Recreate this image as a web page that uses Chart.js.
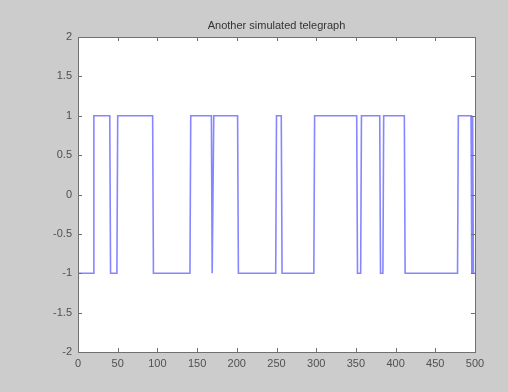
<!DOCTYPE html>
<html>
<head>
<meta charset="utf-8">
<title>Another simulated telegraph</title>
<script src="https://cdn.jsdelivr.net/npm/chart.js@4/dist/chart.umd.min.js"></script>
<style>
    html, body { margin: 0; padding: 0; background: #cccccc; }
    #telegraphChart { display: block; }
</style>
</head>
<body>
<canvas id="telegraphChart" width="508" height="392"></canvas>
<script>
// Data: switching points of the telegraph signal (sample index, level)
const switchX = [1, 19, 20, 40, 41, 49, 50, 94, 95, 141, 142, 168, 169, 171, 201, 202,
                 249, 250, 256, 257, 297, 298, 351, 352, 356, 357, 380, 381, 384, 385,
                 411, 412, 478, 479, 495, 496, 497, 498, 500];
const switchY = [-1, -1, 1, 1, -1, -1, 1, 1, -1, -1, 1, 1, -1, 1, 1, -1,
                 -1, 1, 1, -1, -1, 1, 1, -1, -1, 1, 1, -1, -1, 1,
                 1, -1, -1, 1, 1, -1, 1, -1, -1];
const xTicks = [0, 50, 100, 150, 200, 250, 300, 350, 400, 450, 500];
const yTicks = [-2, -1.5, -1, -0.5, 0, 0.5, 1, 1.5, 2];
const chartTitle = 'Another simulated telegraph';

const points = switchX.map((x, i) => ({ x: x, y: switchY[i] }));

// Matlab style box: white axes, frame on all sides, ticks pointing inward
const matlabBox = {
    id: 'matlabBox',
    beforeDraw(chart) {
        const { ctx, chartArea: a } = chart;
        ctx.save();
        ctx.fillStyle = '#cccccc';
        ctx.fillRect(0, 0, chart.width, chart.height);
        ctx.fillStyle = '#ffffff';
        ctx.fillRect(a.left, a.top, a.right - a.left, a.bottom - a.top);
        ctx.restore();
    },
    afterDraw(chart) {
        const { ctx, chartArea: a, scales } = chart;
        const len = 4;
        ctx.save();
        ctx.strokeStyle = '#707070';
        ctx.lineWidth = 1;
        ctx.strokeRect(Math.round(a.left) + 0.5, Math.round(a.top) + 0.5,
                       Math.round(a.right - a.left), Math.round(a.bottom - a.top));
        ctx.beginPath();
        xTicks.forEach(v => {
            const px = Math.round(scales.x.getPixelForValue(v)) + 0.5;
            ctx.moveTo(px, a.bottom); ctx.lineTo(px, a.bottom - len);
            ctx.moveTo(px, a.top); ctx.lineTo(px, a.top + len);
        });
        yTicks.forEach(v => {
            const py = Math.round(scales.y.getPixelForValue(v)) + 0.5;
            ctx.moveTo(a.left, py); ctx.lineTo(a.left + len, py);
            ctx.moveTo(a.right, py); ctx.lineTo(a.right - len, py);
        });
        ctx.stroke();

        // title
        ctx.fillStyle = '#333333';
        ctx.font = '11px "Liberation Sans", Arial, sans-serif';
        ctx.textAlign = 'center';
        ctx.textBaseline = 'middle';
        ctx.fillText(chartTitle, (a.left + a.right) / 2, 26);
        ctx.restore();
    }
};

const tickFont = { family: '"Liberation Sans", Arial, sans-serif', size: 11 };

const ctx = document.getElementById('telegraphChart').getContext('2d');
const telegraphChart = new Chart(ctx, {
    type: 'line',
    data: {
        datasets: [{
            data: points,
            borderColor: '#8686ff',
            borderWidth: 1.6,
            borderJoinStyle: 'miter',
            pointRadius: 0,
            tension: 0,
            fill: false
        }]
    },
    options: {
        responsive: false,
        animation: false,
        events: [],
        layout: { padding: { left: 0, top: 37, right: 33, bottom: 0 } },
        plugins: {
            legend: { display: false },
            tooltip: { enabled: false },
            title: { display: false }
        },
        scales: {
            x: {
                type: 'linear',
                min: 0,
                max: 500,
                afterBuildTicks: scale => { scale.ticks = xTicks.map(v => ({ value: v })); },
                afterFit: scale => { scale.height = 40; },
                grid: { display: false, drawTicks: false },
                border: { display: false },
                ticks: {
                    padding: 5,
                    maxRotation: 0,
                    autoSkip: false,
                    color: '#505050',
                    font: tickFont,
                    callback: v => String(v)
                }
            },
            y: {
                type: 'linear',
                min: -2,
                max: 2,
                afterBuildTicks: scale => { scale.ticks = yTicks.map(v => ({ value: v })); },
                afterFit: scale => { scale.width = 78; },
                grid: { display: false, drawTicks: false },
                border: { display: false },
                ticks: {
                    padding: 6,
                    autoSkip: false,
                    color: '#505050',
                    font: tickFont,
                    callback: v => String(v)
                }
            }
        }
    },
    plugins: [matlabBox]
});
</script>
</body>
</html>
